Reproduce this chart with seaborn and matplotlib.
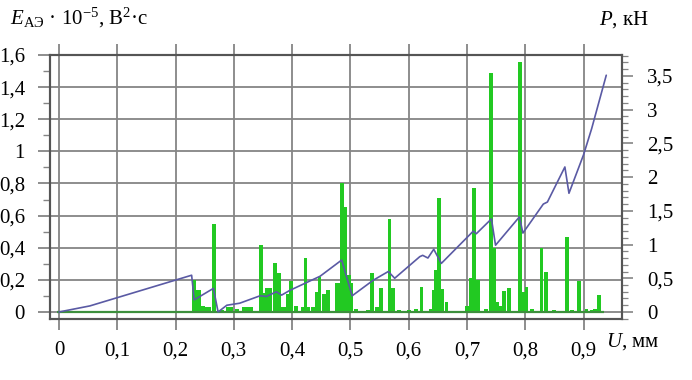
import numpy as np
import pandas as pd
import matplotlib
matplotlib.use('Agg')
import matplotlib.pyplot as plt
import seaborn as sns
from matplotlib.ticker import MultipleLocator, FuncFormatter

# ---- data ----
bar_u = [0.231, 0.238, 0.241, 0.247, 0.254, 0.258, 0.266, 0.280, 0.290, 0.296,
         0.305, 0.318, 0.324, 0.330, 0.346, 0.353, 0.357, 0.362, 0.371, 0.377,
         0.382, 0.390, 0.393, 0.398, 0.406, 0.418, 0.423, 0.428, 0.436, 0.442,
         0.447, 0.455, 0.461, 0.476, 0.481, 0.486, 0.491, 0.497, 0.502, 0.510,
         0.530, 0.537, 0.545, 0.552, 0.567, 0.573, 0.583, 0.600, 0.612, 0.622,
         0.638, 0.643, 0.647, 0.652, 0.657, 0.665, 0.700, 0.706, 0.712, 0.719,
         0.733, 0.741, 0.746, 0.752, 0.758, 0.763, 0.772, 0.791, 0.796, 0.802,
         0.811, 0.828, 0.836, 0.850, 0.871, 0.880, 0.892, 0.905, 0.915, 0.920,
         0.927]
bar_e = [0.20, 0.137, 0.137, 0.04, 0.03, 0.03, 0.548, 0.01, 0.03, 0.03,
         0.02, 0.03, 0.03, 0.03, 0.417, 0.116, 0.147, 0.147, 0.307, 0.245,
         0.03, 0.03, 0.11, 0.19, 0.04, 0.03, 0.334, 0.03, 0.03, 0.127,
         0.22, 0.11, 0.137, 0.18, 0.18, 0.806, 0.656, 0.23, 0.18, 0.02,
         0.01, 0.245, 0.03, 0.147, 0.577, 0.147, 0.01, 0.01, 0.02, 0.158,
         0.02, 0.137, 0.26, 0.708, 0.14, 0.064, 0.035, 0.21, 0.77, 0.20,
         0.02, 1.486, 0.40, 0.06, 0.04, 0.13, 0.147, 1.558, 0.127, 0.158,
         0.02, 0.40, 0.247, 0.01, 0.465, 0.01, 0.195, 0.02, 0.01, 0.02,
         0.106]

load_u = [0.0, 0.053, 0.2276, 0.232, 0.265, 0.273, 0.288, 0.31, 0.345, 0.356,
          0.373, 0.382, 0.396, 0.448, 0.485, 0.503, 0.539, 0.565, 0.576, 0.619,
          0.624, 0.633, 0.643, 0.656, 0.711, 0.716, 0.742, 0.749, 0.790, 0.796,
          0.831, 0.838, 0.868, 0.875, 0.900, 0.914, 0.939]
load_p = [0.0, 0.09, 0.545, 0.18, 0.35, 0.0, 0.10, 0.13, 0.24, 0.23,
          0.30, 0.25, 0.32, 0.53, 0.77, 0.24, 0.47, 0.60, 0.50, 0.82,
          0.84, 0.80, 0.93, 0.72, 1.20, 1.16, 1.38, 0.99, 1.41, 1.17,
          1.60, 1.63, 2.15, 1.76, 2.33, 2.72, 3.51]

x_ticks = [0, 0.1, 0.2, 0.3, 0.4, 0.5, 0.6, 0.7, 0.8, 0.9]
left_ticks = [0, 0.2, 0.4, 0.6, 0.8, 1.0, 1.2, 1.4, 1.6]
right_ticks = [0, 0.5, 1.0, 1.5, 2.0, 2.5, 3.0, 3.5]

left_title = r'$E_{\mathrm{АЭ}}$ · 10$^{-5}$, В$^{2}$·с'
right_title = r'$P$, кН'
x_title = r'$U$, мм'

# ---- style ----
sns.set_theme(style='white')
plt.rcParams['font.family'] = ['Liberation Serif', 'DejaVu Serif']
plt.rcParams['text.color'] = 'black'
plt.rcParams['mathtext.fontset'] = 'custom'
plt.rcParams['mathtext.rm'] = 'Liberation Serif'
plt.rcParams['mathtext.it'] = 'Liberation Serif:italic'
plt.rcParams['mathtext.bf'] = 'Liberation Serif:bold'

W, H = 692, 380
fig = plt.figure(figsize=(W / 100, H / 100), dpi=100)
fig.patch.set_facecolor('white')
ax = fig.add_axes([50 / W, 1 - 319 / H, 572 / W, 264 / H])

grid_c = '#858585'
frame_c = '#555555'
fmt = FuncFormatter(lambda v, p: f'{v:g}'.replace('.', ','))

ax.set_xlim(-0.0154, 0.966)
ax.set_ylim(-0.044, 1.6)
ax.bar(bar_u, bar_e, width=0.0065, color='#22c922', linewidth=0, zorder=3)
ax.hlines(0, -0.004, 0.935, color='#3d8f3d', lw=1.6, zorder=4)

ax.set_xticks(x_ticks)
ax.xaxis.set_major_formatter(fmt)
ax.set_yticks(left_ticks)
ax.yaxis.set_major_formatter(fmt)
ax.yaxis.set_minor_locator(MultipleLocator(0.1))
ax.grid(True, which='major', color=grid_c, lw=1.3, zorder=1)
ax.tick_params(axis='x', which='major', direction='out', length=8, width=1.3,
               color=grid_c, top=True, bottom=True, labelsize=15, pad=8,
               labelcolor='black')
ax.tick_params(axis='y', which='major', direction='out', length=9, width=1.3,
               color=grid_c, left=True, labelsize=15, pad=9, labelcolor='black')
ax.tick_params(axis='y', which='minor', direction='out', length=5, width=1.0,
               color=grid_c, left=True)
for s in ax.spines.values():
    s.set_color(frame_c)
    s.set_linewidth(1.5)
    s.set_visible(True)

ax2 = ax.twinx()
df = pd.DataFrame({'U': load_u, 'P': load_p})
sns.lineplot(data=df, x='U', y='P', ax=ax2, sort=False, estimator=None,
             color='#5a5aa4', lw=1.2, zorder=5)
ax2.set_ylim(-0.104, 3.81)
ax2.set_yticks(right_ticks)
ax2.yaxis.set_major_formatter(fmt)
ax2.yaxis.set_minor_locator(MultipleLocator(0.1))
ax2.tick_params(axis='y', which='major', direction='out', length=8, width=1.2,
                color=grid_c, right=True, labelsize=15, pad=10, labelcolor='black')
ax2.tick_params(axis='y', which='minor', direction='out', length=4, width=0.9,
                color=grid_c, right=True)
ax2.set_xlabel('')
ax2.set_ylabel('')
ax.set_xlabel('')
ax.set_ylabel('')
for s in ax2.spines.values():
    s.set_color(frame_c)
    s.set_linewidth(1.5)

for lbl in ax.get_xticklabels() + ax.get_yticklabels() + ax2.get_yticklabels():
    lbl.set_fontfamily(['Liberation Serif', 'DejaVu Serif'])

fig.text(10 / W, 1 - 18 / H, left_title, ha='left', va='center', fontsize=15, color='black')
fig.text(624 / W, 1 - 20 / H, right_title, ha='center', va='center', fontsize=15, color='black')
fig.text(606 / W, 1 - 342 / H, x_title, ha='left', va='center', fontsize=15, color='black')

fig.savefig('out.png', dpi=100)
